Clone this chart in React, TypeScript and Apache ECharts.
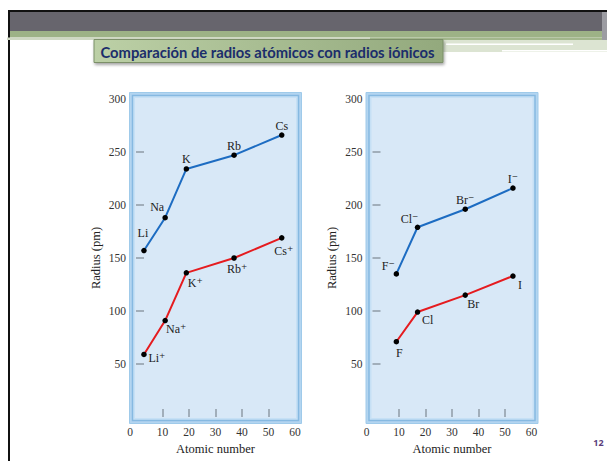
import React, { useEffect, useRef } from "react";
import * as echarts from "echarts";

// ---- data ----
const alkaliZ = [3, 11, 19, 37, 55];
const alkaliAtoms = ["Li", "Na", "K", "Rb", "Cs"];
const alkaliAtomRadii = [157, 188, 234, 247, 266];
const alkaliIons = ["Li⁺", "Na⁺", "K⁺", "Rb⁺", "Cs⁺"];
const alkaliIonRadii = [59, 91, 136, 150, 169];

const halogenZ = [9, 17, 35, 53];
const halideIons = ["F⁻", "Cl⁻", "Br⁻", "I⁻"];
const halideIonRadii = [135, 179, 196, 216];
const halogenAtoms = ["F", "Cl", "Br", "I"];
const halogenAtomRadii = [71, 99, 115, 133];

const xTickValues = [10, 20, 30, 40, 50];
const yTickValues = [50, 100, 150, 200, 250];
const yLabelValues = [50, 100, 150, 200, 250, 300];

const TITLE = "Comparación de radios atómicos con radios iónicos";
const PAGE = "12";
const X_NAME = "Atomic number";
const Y_NAME = "Radius (pm)";

// ---- label placement (style, not data) ----
const offAlkaliAtoms = [[-1, -18], [-8, -11], [0, -10], [0, -9], [0, -9]];
const offAlkaliIons = [[13, 4], [11, 8], [9, 10], [3, 11], [2, 13]];
const offHalideIons = [[-8, -8], [-8, -8], [0, -9], [0, -9]];
const offHalogenAtoms = [[3, 11], [10, 8], [8, 9], [7, 9]];

const SERIF = '"Liberation Serif", "DejaVu Serif", "Times New Roman", serif';
const BLUE = "#1d6cc2";
const RED = "#e51b1f";

const grids = [
  { left: 136, top: 99, width: 159, height: 318 },
  { left: 372.5, top: 99, width: 159, height: 318 },
];

function buildSeries(
  name: string,
  gi: number,
  xs: number[],
  ys: number[],
  labels: string[],
  offs: number[][],
  color: string
) {
  return {
    name,
    type: "line",
    xAxisIndex: gi,
    yAxisIndex: gi,
    symbol: "circle",
    symbolSize: 5.5,
    itemStyle: { color: "#000" },
    lineStyle: { color, width: 2 },
    emphasis: { disabled: true },
    label: {
      show: true,
      position: "inside",
      formatter: "{b}",
      fontFamily: SERIF,
      fontSize: 12,
      color: "#222",
    },
    data: ys.map((r, i) => ({
      value: [xs[i], r],
      name: labels[i],
      label: { offset: offs[i] },
    })),
  };
}

function frame(g: any) {
  const x = g.left, y = g.top, w = g.width, h = g.height;
  return [
    {
      type: "rect",
      z: -10,
      shape: { x: x - 6.5, y: y - 6.5, width: w + 13, height: h + 13 },
      style: { fill: "#b3d5f0", stroke: "#9fcaea", lineWidth: 1 },
    },
    {
      type: "rect",
      z: -9,
      shape: { x: x - 3.5, y: y - 3.5, width: w + 7, height: h + 7 },
      style: { fill: "#c6e0f5", stroke: "#86b9e1", lineWidth: 1.5 },
    },
    {
      type: "rect",
      z: -8,
      shape: { x: x - 1, y: y - 1, width: w + 2, height: h + 2 },
      style: { fill: "#d8e8f7" },
    },
  ];
}

export default function App() {
  const ref = useRef<HTMLDivElement>(null);
  useEffect(() => {
    if (!ref.current) return;
    const chart = echarts.init(ref.current, undefined, { renderer: "svg" });

    // fit title width
    let scaleX = 1;
    try {
      const ctx = document.createElement("canvas").getContext("2d");
      if (ctx) {
        ctx.font = 'bold 15px Lato';
        const w = ctx.measureText(TITLE).width;
        if (w > 0) scaleX = 334 / w;
      }
    } catch (e) {}

    const axisLabelBase = { fontFamily: SERIF, fontSize: 11.5, color: "#333" };

    const option: any = {
      animation: false,
      backgroundColor: "#ffffff",
      grid: grids,
      xAxis: grids.map((_, i) => ({
        gridIndex: i,
        type: "value",
        min: 0,
        max: 60,
        interval: 10,
        axisLine: { show: false },
        splitLine: { show: false },
        axisTick: {
          show: true,
          inside: true,
          length: 8,
          customValues: xTickValues,
          lineStyle: { color: "#8f9ba6", width: 1.5 },
        },
        axisLabel: {
          ...axisLabelBase,
          margin: 9,
          formatter: (v: number) => (v === 0 ? "{z|0}" : String(v)),
          rich: { z: { ...axisLabelBase, padding: [0, 12, 0, 0] } },
        },
        name: X_NAME,
        nameLocation: "middle",
        nameGap: 21,
        nameTextStyle: { fontFamily: SERIF, fontSize: 12.5, color: "#222" },
      })),
      yAxis: grids.map((_, i) => ({
        gridIndex: i,
        type: "value",
        min: 0,
        max: 300,
        interval: 50,
        axisLine: { show: false },
        splitLine: { show: false },
        axisTick: {
          show: true,
          inside: true,
          length: 8,
          customValues: yTickValues,
          lineStyle: { color: "#8f9ba6", width: 1.5 },
        },
        axisLabel: {
          ...axisLabelBase,
          margin: 10,
          customValues: yLabelValues,
        },
        name: Y_NAME,
        nameLocation: "middle",
        nameGap: 34,
        nameTextStyle: { fontFamily: SERIF, fontSize: 12.5, color: "#222" },
      })),
      series: [
        buildSeries("Atomic radius", 0, alkaliZ, alkaliAtomRadii, alkaliAtoms, offAlkaliAtoms, BLUE),
        buildSeries("Ionic radius", 0, alkaliZ, alkaliIonRadii, alkaliIons, offAlkaliIons, RED),
        buildSeries("Ionic radius (anion)", 1, halogenZ, halideIonRadii, halideIons, offHalideIons, BLUE),
        buildSeries("Atomic radius (halogen)", 1, halogenZ, halogenAtomRadii, halogenAtoms, offHalogenAtoms, RED),
      ],
      graphic: [
        ...frame(grids[0]),
        ...frame(grids[1]),
        // header decoration
        { type: "rect", shape: { x: 8, y: 10, width: 599, height: 2 }, style: { fill: "#111" } },
        { type: "rect", shape: { x: 8, y: 10, width: 2, height: 451 }, style: { fill: "#111" } },
        { type: "rect", shape: { x: 10, y: 12, width: 597, height: 19 }, style: { fill: "#67656d" } },
        { type: "rect", shape: { x: 10, y: 31, width: 597, height: 6.5 }, style: { fill: "#9db286" } },
        { type: "rect", shape: { x: 7, y: 37.5, width: 363, height: 2.5 }, style: { fill: "#cfd8c3" } },
        { type: "rect", shape: { x: 370, y: 37.5, width: 237, height: 2.5 }, style: { fill: "#a3b78d" } },
        { type: "rect", shape: { x: 443, y: 40, width: 164, height: 12 }, style: { fill: "#dce4d2" } },
        { type: "rect", shape: { x: 446, y: 43.5, width: 127, height: 1.5 }, style: { fill: "#ffffff" } },
        { type: "rect", shape: { x: 502, y: 50, width: 105, height: 1.5 }, style: { fill: "#ffffff" } },
        { type: "rect", shape: { x: 602, y: 12, width: 5, height: 28 }, style: { fill: "#9c9ca2" } },
        // title box
        {
          type: "rect",
          shape: { x: 94, y: 39.5, width: 349, height: 23 },
          style: {
            fill: new echarts.graphic.LinearGradient(0, 0, 1, 0, [
              { offset: 0, color: "#bcd0a6" },
              { offset: 1, color: "#93a97d" },
            ]),
            stroke: "#7b8f69",
            lineWidth: 1,
            shadowBlur: 3,
            shadowOffsetX: 1,
            shadowOffsetY: 2,
            shadowColor: "rgba(0,0,0,0.35)",
          },
        },
        {
          type: "text",
          x: 100.5,
          y: 52,
          scaleX,
          style: {
            text: TITLE,
            font: "bold 15px Lato",
            fill: "#1b2d6b",
            align: "left",
            verticalAlign: "middle",
          },
        },
        {
          type: "text",
          x: 598.5,
          y: 442,
          style: {
            text: PAGE,
            font: 'bold 9px "Open Sans"',
            fill: "#5a3d7c",
            align: "center",
            verticalAlign: "middle",
          },
        },
      ],
    };
    chart.setOption(option);
    return () => chart.dispose();
  }, []);

  return (
    <div
      ref={ref}
      style={{ position: "absolute", left: 0, top: 0, width: 607, height: 461, background: "#fff" }}
    />
  );
}
